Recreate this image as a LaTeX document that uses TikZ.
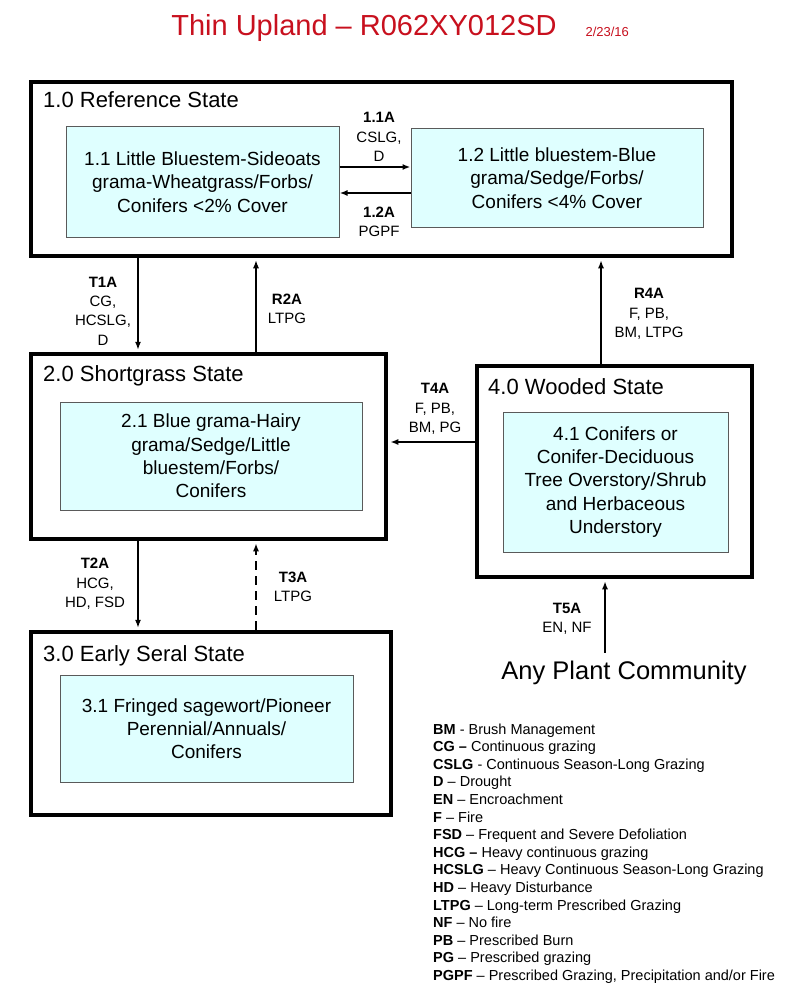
\documentclass[tikz,border=0pt]{standalone}
\usepackage{fontspec}
\setmainfont{Liberation Sans}
\usetikzlibrary{arrows.meta}
\definecolor{titlered}{RGB}{200,16,30}
\definecolor{commfill}{RGB}{223,255,255}
\definecolor{commline}{RGB}{90,90,90}

\begin{document}
\begin{tikzpicture}[x=1pt,y=-1pt,
    statebox/.style={draw,line width=4.5pt,inner sep=0pt},
    commbox/.style={draw=commline,fill=commfill,line width=1pt,align=center,inner sep=0pt,font=\fontsize{19}{23.3}\selectfont},
    statename/.style={anchor=base west,inner sep=0pt,font=\fontsize{22}{26}\selectfont},
    lbl/.style={align=center,inner sep=0pt,font=\fontsize{15}{19.3}\selectfont},
    legtxt/.style={anchor=base west,inner sep=0pt,font=\fontsize{14.5}{17.6}\selectfont},
    arr/.style={-{Latex[length=8pt,width=6pt]},line width=1.3pt,shorten >=2pt}]
      \useasboundingbox[fill=white] (0,0) rectangle (800,1003);
      \node[anchor=base,text=titlered,font=\fontsize{29}{34}\selectfont] (title) at (364,36) {Thin Upland – R062XY012SD};
      \node[anchor=base west,text=titlered,font=\fontsize{13}{15}\selectfont] (date) at (582,37) {2/23/16};
      % states
      \node[statebox,minimum width=701pt,minimum height=174pt] (s10) at (381.5,169) {};
      \node[statebox,minimum width=355pt,minimum height=185pt] (s20) at (208.5,446.5) {};
      \node[statebox,minimum width=360pt,minimum height=183pt] (s30) at (211,723.5) {};
      \node[statebox,minimum width=275pt,minimum height=211pt] (s40) at (614.5,471.5) {};
      \node[statename] (n10) at (43,108) {1.0 Reference State};
      \node[statename] (n20) at (43,381) {2.0 Shortgrass State};
      \node[statename] (n30) at (43,661) {3.0 Early Seral State};
      \node[statename] (n40) at (488,394) {4.0 Wooded State};
      % communities
      \node[commbox,minimum width=273pt,minimum height=110pt] (b11) at (202.5,182) {1.1 Little Bluestem-Sideoats\\grama-Wheatgrass/Forbs/\\Conifers <2\% Cover};
      \node[commbox,minimum width=292pt,minimum height=98pt] (b12) at (557,178) {1.2 Little bluestem-Blue\\grama/Sedge/Forbs/\\Conifers <4\% Cover};
      \node[commbox,minimum width=302pt,minimum height=108pt] (b21) at (211,456) {2.1 Blue grama-Hairy\\grama/Sedge/Little\\bluestem/Forbs/\\Conifers};
      \node[commbox,minimum width=293pt,minimum height=107pt] (b31) at (206.5,728.5) {3.1 Fringed sagewort/Pioneer\\Perennial/Annuals/\\Conifers};
      \node[commbox,minimum width=225pt,minimum height=140pt] (b41) at (615.5,482) {4.1 Conifers or\\Conifer-Deciduous\\Tree Overstory/Shrub\\and Herbaceous\\Understory};
      \node[font=\fontsize{25.5}{30}\selectfont,inner sep=0pt] (any) at (624,673) {Any Plant Community};
      % arrows
      \coordinate (cA) at (138,0);
      \coordinate (cB) at (256,0);
      \coordinate (cC) at (601,0);
      \coordinate (cD) at (605,0);
      \coordinate (rT4) at (0,442);
      \draw[arr,line width=1.8pt,shorten >=0pt] ([yshift=15pt]b11.east) -- ([yshift=15pt]b11.east -| b12.west);
      \draw[arr,line width=1.8pt,shorten >=0pt] ([yshift=-15pt]b12.west) -- ([yshift=-15pt]b12.west -| b11.east);
      \draw[arr] (cA |- s10.south) -- (cA |- s20.north);
      \draw[arr] (cB |- s20.north) -- (cB |- s10.south);
      \draw[arr] (cA |- s20.south) -- (cA |- s30.north);
      \draw[arr,line width=2pt,dash pattern=on 9pt off 6pt] (cB |- s30.north) -- (cB |- s20.south);
      \draw[arr,line width=1.5pt] (cC |- s40.north) -- (cC |- s10.south);
      \draw[arr,line width=1.8pt] (s40.west |- rT4) -- (s20.east |- rT4);
      \draw[arr,line width=1.5pt,shorten <=8pt] (cD |- any.north) -- (cD |- s40.south);
      % labels
      \node[lbl] (l11) at (379,137) {\textbf{1.1A}\\CSLG,\\D};
      \node[lbl] (l12) at (379,222) {\textbf{1.2A}\\PGPF};
      \node[lbl] (lt1) at (103,311) {\textbf{T1A}\\CG,\\HCSLG,\\D};
      \node[lbl] (lr2) at (287,308.5) {\textbf{R2A}\\LTPG};
      \node[lbl] (lr4) at (649,314) {\textbf{R4A}\\F, PB,\\BM, LTPG};
      \node[lbl] (lt4) at (435,409) {\textbf{T4A}\\F, PB,\\BM, PG};
      \node[lbl] (lt2) at (95,584) {\textbf{T2A}\\HCG,\\HD, FSD};
      \node[lbl] (lt3) at (293,586.5) {\textbf{T3A}\\LTPG};
      \node[lbl] (lt5) at (567,618.5) {\textbf{T5A}\\EN, NF};
      % legend
      \foreach \ab/\txt [count=\i from 0] in {BM/{- Brush Management}, {CG –}/{Continuous grazing},
        CSLG/{- Continuous Season-Long Grazing}, D/{– Drought}, EN/{– Encroachment}, F/{– Fire},
        FSD/{– Frequent and Severe Defoliation}, {HCG –}/{Heavy continuous grazing},
        HCSLG/{– Heavy Continuous Season-Long Grazing}, HD/{– Heavy Disturbance},
        LTPG/{– Long-term Prescribed Grazing}, NF/{– No fire}, PB/{– Prescribed Burn},
        PG/{– Prescribed grazing}, PGPF/{– Prescribed Grazing, Precipitation and/or Fire}}
      \node[legtxt] (leg\i) at (433,{734+17.6*\i}) {\textbf{\ab} \txt};
\end{tikzpicture}
\end{document}
